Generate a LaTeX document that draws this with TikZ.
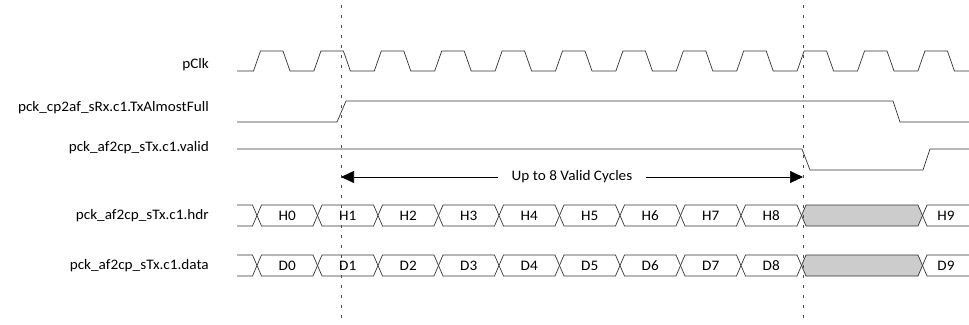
\documentclass[tikz,border=0pt]{standalone}
\usepackage{tikz}
\usetikzlibrary{calc,arrows.meta}
\usepackage{fontspec}
\setmainfont{Carlito}[FakeStretch=1.05]
\usepackage{xcolor}

% one bus cell: left x, right x, mid y, fill, text, name
\newcommand{\buscell}[6]{%
\filldraw[sig, fill=#4] (#1,#3) -- (#1+4.5,#3-10.5) -- (#2-4.5,#3-10.5) -- (#2,#3) -- (#2-4.5,#3+10.5) -- (#1+4.5,#3+10.5) -- cycle;
\node[cell] (#6) at ({(#1+#2)/2},#3) {#5};}

\begin{document}
\begin{tikzpicture}[x=1pt, y=-1pt,
  sig/.style={draw=black!80, line width=0.7pt, line join=miter},
  lbl/.style={anchor=east, inner sep=0pt, font=\fontsize{14.5}{16}\selectfont},
  cell/.style={inner sep=0pt, font=\fontsize{14.5}{16}\selectfont},
  mark line/.style={draw=black!70, line width=0.8pt, dash pattern=on 3pt off 7pt}]
\useasboundingbox (0,0) rectangle (969,324);

% signal names
\node[lbl] (lclk) at (209,65) {pClk};
\node[lbl] (lfull) at (209,107.5) {pck\_cp2af\_sRx.c1.TxAlmostFull};
\node[lbl] (lvalid) at (209,147.5) {pck\_af2cp\_sTx.c1.valid};
\node[lbl] (lhdr) at (209,216) {pck\_af2cp\_sTx.c1.hdr};
\node[lbl] (ldata) at (209,266) {pck\_af2cp\_sTx.c1.data};

% clock
\draw[sig] (237,71) \foreach \k in {0,...,11} { -- ({253.5+60.4*\k},71) -- ++(7,-20) -- ++(22.5,0) -- ++(7,20) } -- (969,71);

% TxAlmostFull and valid
\draw[sig] (237,122) -- (337,122) -- (346,101) -- (893,101) -- (900,122) -- (969,122);
\draw[sig] (237,149) -- (802,149) -- (810,170) -- (923,170) -- (930,149) -- (969,149);

% hdr and data buses
\foreach \y/\t in {215.5/H, 265.5/D}{
  \draw[sig] (237,\y-10.5) -- (252.5,\y-10.5) -- (257,\y) -- (252.5,\y+10.5) -- (237,\y+10.5);
  \foreach \i in {0,...,8}{
    \pgfmathsetmacro{\xa}{257+60.5*\i}
    \pgfmathsetmacro{\xb}{257+60.5*(\i+1)}
    \buscell{\xa}{\xb}{\y}{white}{\t\i}{c\t\i}
  }
  \buscell{801.5}{922.5}{\y}{black!20}{}{g\t}
  \draw[sig] (969,\y-10.5) -- (927,\y-10.5) -- (922.5,\y) -- (927,\y+10.5) -- (969,\y+10.5);
  \node[cell] (c\t9) at (946,\y) {\t9};
}

% markers
\coordinate (ma) at (341,5);
\coordinate (mb) at (803,5);
\draw[mark line] (ma) -- ++(0,318);
\draw[mark line] (mb) -- ++(0,318);
\coordinate (aa) at (341,177);
\coordinate (ab) at (803,177);
\draw[line width=0.7pt, {Triangle[length=13pt,width=12pt]}-{Triangle[length=13pt,width=12pt]}] (aa) -- node[fill=white, inner xsep=14pt, inner ysep=1pt, font=\fontsize{14.5}{16}\selectfont] (cyc) {Up to 8 Valid Cycles} (ab);
\end{tikzpicture}
\end{document}
